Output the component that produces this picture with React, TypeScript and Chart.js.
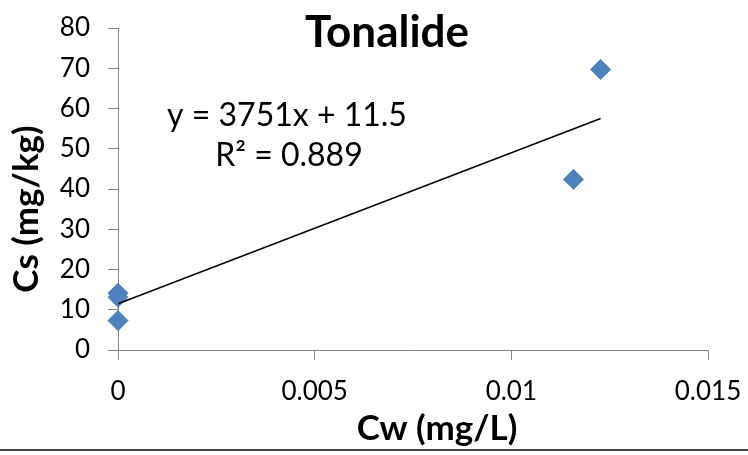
import React, { useEffect, useRef } from "react";
import { Chart, registerables } from "chart.js";

Chart.register(...registerables);

// ---- data ----
const cwValues = [0, 0, 0, 0.01158, 0.01227];
const csValues = [14.1, 13.1, 7.3, 42.4, 69.7];
const trendSlope = 3751;
const trendIntercept = 11.5;
const trendX = [0, 0.01227];
const xTicks = [0, 0.005, 0.01, 0.015];
const xTickLabels = ["0", "0.005", "0.01", "0.015"];
const yTicks = [0, 10, 20, 30, 40, 50, 60, 70, 80];
const yTickLabels = ["0", "10", "20", "30", "40", "50", "60", "70", "80"];
const titleText = "Tonalide";
const xTitleText = "Cw (mg/L)";
const yTitleText = "Cs (mg/kg)";
const equationText = "y = 3751x + 11.5";
const r2Text = "R² = 0.889";

const FONT = "Lato, 'Open Sans', 'DejaVu Sans', sans-serif";
const AXIS_COLOR = "#868686";

const textPlugin = {
  id: "textPlugin",
  afterDraw(chart: any) {
    const ctx = chart.ctx as CanvasRenderingContext2D;
    ctx.save();
    ctx.fillStyle = "#000";
    ctx.textAlign = "center";
    ctx.textBaseline = "alphabetic";
    // title
    ctx.font = `bold 44px ${FONT}`;
    ctx.fillText(titleText, 387, 47);
    // equation
    ctx.font = `32px ${FONT}`;
    ctx.fillText(equationText, 287, 126);
    ctx.fillText(r2Text, 289, 166);
    // x title
    ctx.font = `bold 35px ${FONT}`;
    ctx.fillText(xTitleText, 437, 440);
    // y title
    ctx.save();
    ctx.translate(38, 209);
    ctx.rotate(-Math.PI / 2);
    ctx.fillText(yTitleText, 0, 0);
    ctx.restore();
    // bottom border line
    ctx.fillStyle = "#4a4a4a";
    ctx.fillRect(0, 449, 748, 2);
    ctx.restore();
  },
};

export default function App() {
  const ref = useRef<HTMLCanvasElement | null>(null);

  useEffect(() => {
    document.body.style.margin = "0";
    const canvas = ref.current;
    if (!canvas) return;
    const chart = new Chart(canvas, {
      type: "scatter",
      data: {
        datasets: [
          {
            label: "Trend",
            type: "line",
            data: trendX.map((x) => ({ x, y: trendSlope * x + trendIntercept })),
            borderColor: "#000",
            borderWidth: 1.5,
            pointRadius: 0,
            fill: false,
            showLine: true,
            clip: false,
          } as any,
          {
            label: "Tonalide",
            data: cwValues.map((x, i) => ({ x, y: csValues[i] })),
            backgroundColor: "#4F81BD",
            borderColor: "#4F81BD",
            borderWidth: 1,
            pointStyle: "rectRot",
            pointRadius: 10,
            clip: false,
          } as any,
        ],
      },
      options: {
        animation: false,
        responsive: false,
        maintainAspectRatio: false,
        layout: { padding: { left: 0, right: 40, top: 28, bottom: 0 } },
        plugins: {
          legend: { display: false },
          tooltip: { enabled: false },
          title: { display: false },
        },
        scales: {
          x: {
            type: "linear",
            min: 0,
            max: 0.015,
            afterBuildTicks: (scale: any) => {
              scale.ticks = xTicks.map((v) => ({ value: v }));
            },
            afterFit: (scale: any) => {
              scale.height = 105;
              scale.paddingLeft = 0;
              scale.paddingRight = 0;
            },
            grid: {
              display: true,
              drawOnChartArea: false,
              drawTicks: true,
              tickLength: 10,
              color: AXIS_COLOR,
            },
            border: { display: true, color: AXIS_COLOR, width: 1 },
            ticks: {
              padding: 16,
              color: "#000",
              font: { family: FONT, size: 26 },
              maxRotation: 0,
              autoSkip: false,
              callback: (v: any) => {
                const i = xTicks.indexOf(Number(v));
                return i >= 0 ? xTickLabels[i] : "";
              },
            },
          },
          y: {
            type: "linear",
            min: 0,
            max: 80,
            afterBuildTicks: (scale: any) => {
              scale.ticks = yTicks.map((v) => ({ value: v }));
            },
            afterFit: (scale: any) => {
              scale.width = 118;
              scale.paddingTop = 0;
              scale.paddingBottom = 0;
            },
            grid: {
              display: true,
              drawOnChartArea: false,
              drawTicks: true,
              tickLength: 10,
              color: AXIS_COLOR,
            },
            border: { display: true, color: AXIS_COLOR, width: 1 },
            ticks: {
              padding: 18,
              color: "#000",
              font: { family: FONT, size: 26 },
              autoSkip: false,
              callback: (v: any) => {
                const i = yTicks.indexOf(Number(v));
                return i >= 0 ? yTickLabels[i] : "";
              },
            },
          },
        },
      },
      plugins: [textPlugin],
    });
    return () => chart.destroy();
  }, []);

  return (
    <div style={{ width: 748, height: 455, background: "#fff" }}>
      <canvas ref={ref} width={748} height={455} style={{ display: "block" }} />
    </div>
  );
}
